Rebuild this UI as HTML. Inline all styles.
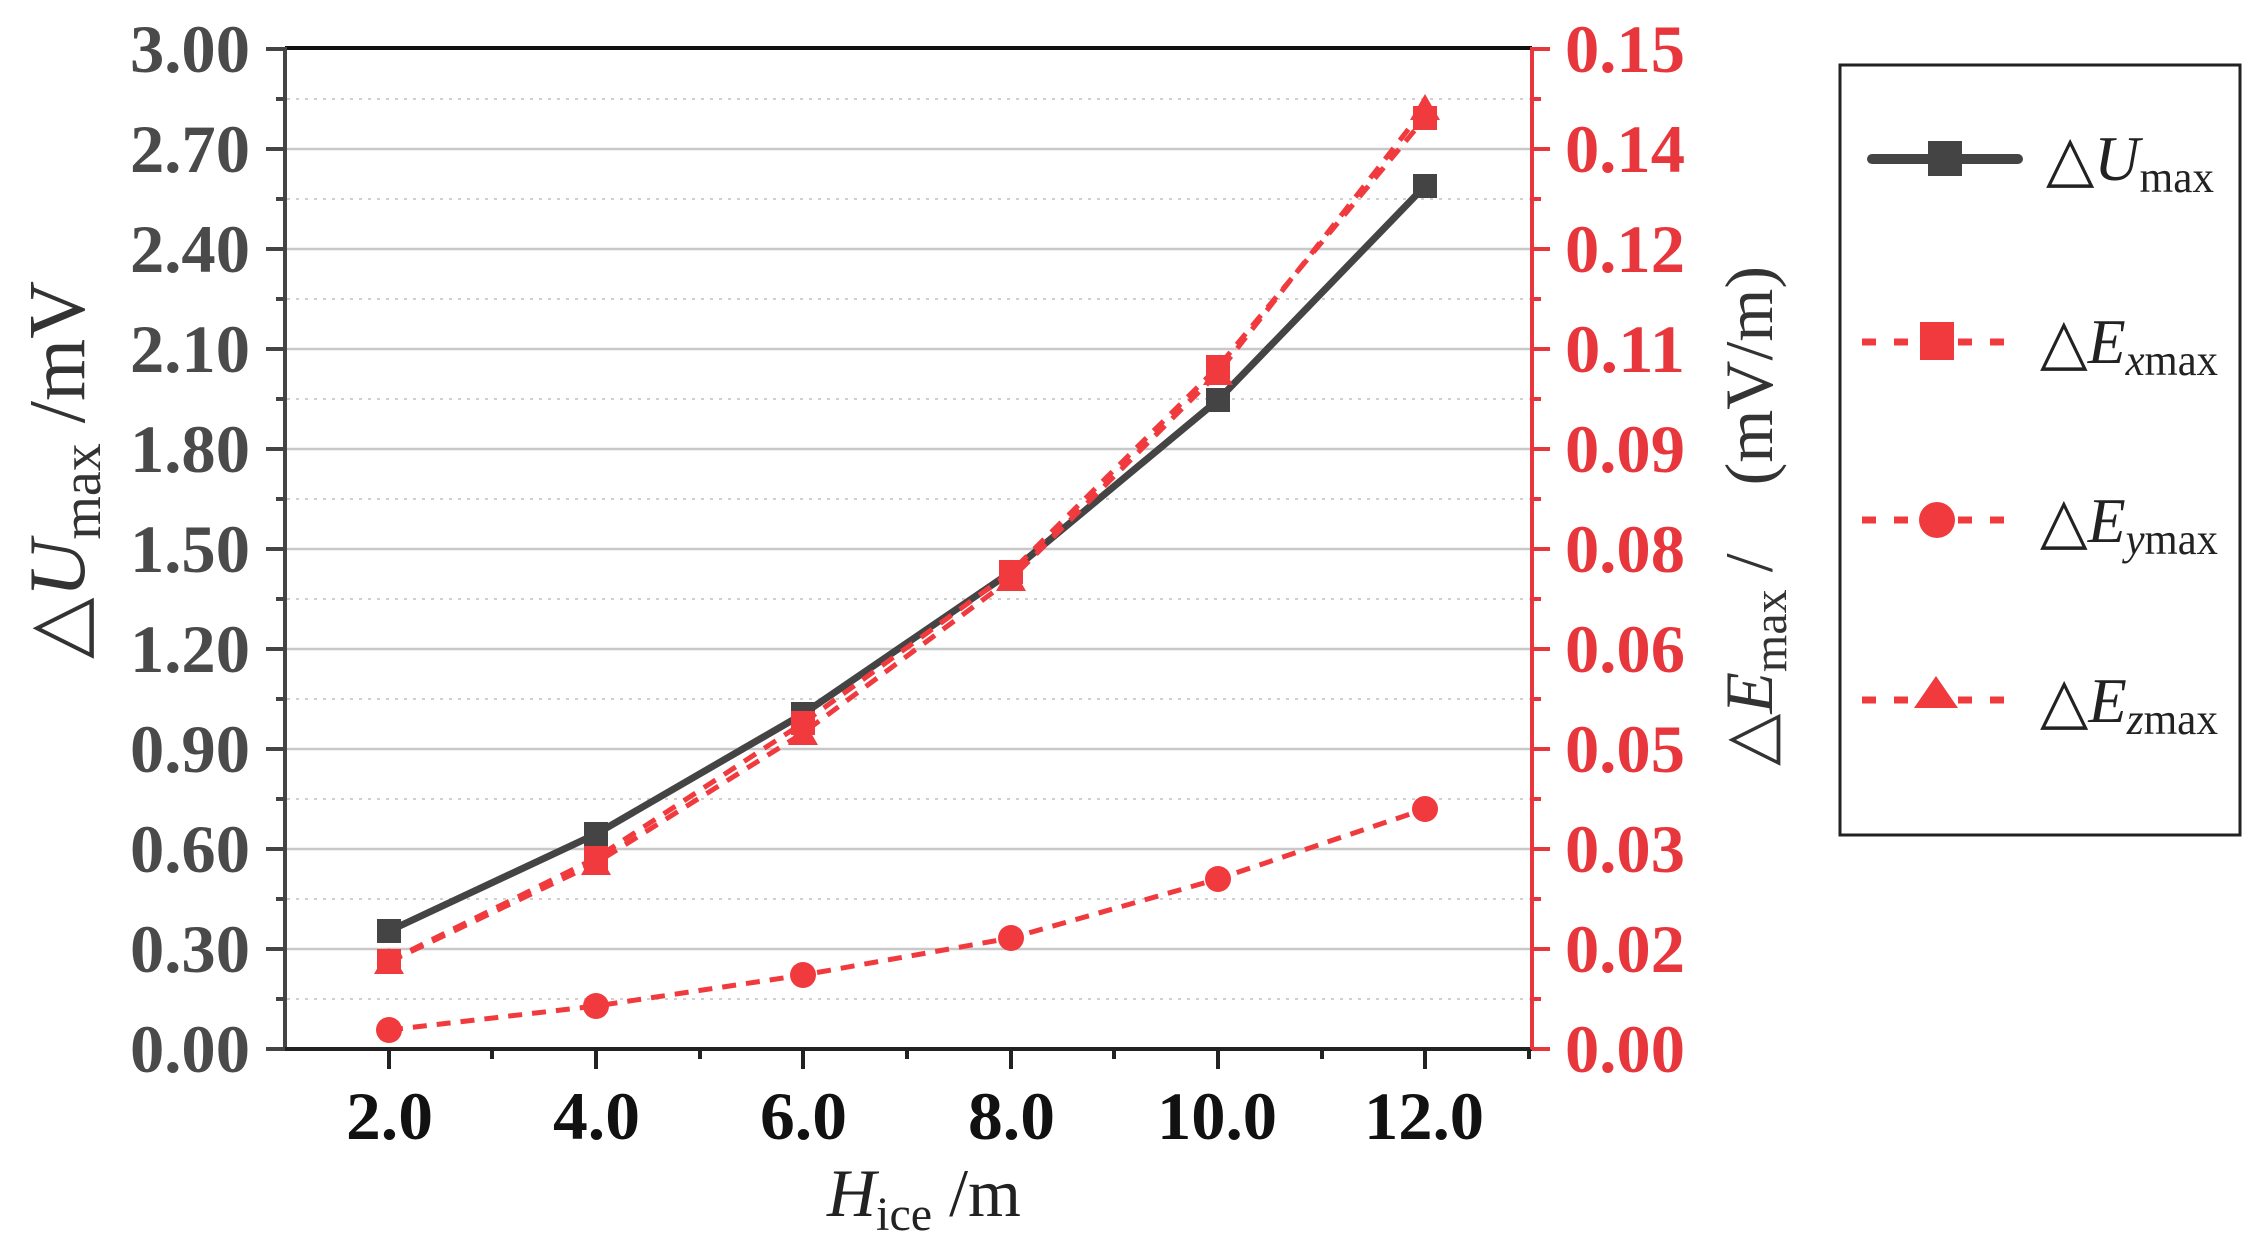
<!DOCTYPE html>
<html><head><meta charset="utf-8"><style>
html,body{margin:0;padding:0;background:#fff;}
svg{display:block;}
text{font-family:"Liberation Serif","Times New Roman",serif;}
</style></head><body>
<svg width="2266" height="1253" viewBox="0 0 2266 1253" xmlns="http://www.w3.org/2000/svg">
<g stroke="#d0d0d0" stroke-width="2" stroke-dasharray="3,6">
<line x1="287" x2="1531" y1="99" y2="99"/><line x1="287" x2="1531" y1="199" y2="199"/>
<line x1="287" x2="1531" y1="299" y2="299"/><line x1="287" x2="1531" y1="399" y2="399"/>
<line x1="287" x2="1531" y1="499" y2="499"/><line x1="287" x2="1531" y1="599" y2="599"/>
<line x1="287" x2="1531" y1="699" y2="699"/><line x1="287" x2="1531" y1="799" y2="799"/>
<line x1="287" x2="1531" y1="899" y2="899"/><line x1="287" x2="1531" y1="999" y2="999"/>
</g>
<g stroke="#c8c8c8" stroke-width="2.5">
<line x1="287" x2="1531" y1="149" y2="149"/><line x1="287" x2="1531" y1="249" y2="249"/>
<line x1="287" x2="1531" y1="349" y2="349"/><line x1="287" x2="1531" y1="449" y2="449"/>
<line x1="287" x2="1531" y1="549" y2="549"/><line x1="287" x2="1531" y1="649" y2="649"/>
<line x1="287" x2="1531" y1="749" y2="749"/><line x1="287" x2="1531" y1="849" y2="849"/>
<line x1="287" x2="1531" y1="949" y2="949"/>
</g>
<line x1="285" y1="48" x2="1532" y2="48" stroke="#111" stroke-width="4"/>
<line x1="285" y1="47" x2="285" y2="1050" stroke="#444" stroke-width="4"/>
<line x1="284" y1="1049" x2="1533" y2="1049" stroke="#222" stroke-width="4"/>
<line x1="1532" y1="47" x2="1532" y2="1050" stroke="#e8373c" stroke-width="4"/>
<g stroke="#444" stroke-width="4">
<line x1="266" x2="285" y1="49" y2="49"/><line x1="266" x2="285" y1="149" y2="149"/><line x1="266" x2="285" y1="249" y2="249"/><line x1="266" x2="285" y1="349" y2="349"/><line x1="266" x2="285" y1="449" y2="449"/><line x1="266" x2="285" y1="549" y2="549"/><line x1="266" x2="285" y1="649" y2="649"/><line x1="266" x2="285" y1="749" y2="749"/><line x1="266" x2="285" y1="849" y2="849"/><line x1="266" x2="285" y1="949" y2="949"/><line x1="266" x2="285" y1="1049" y2="1049"/>
<line x1="276" x2="285" y1="99" y2="99"/><line x1="276" x2="285" y1="199" y2="199"/><line x1="276" x2="285" y1="299" y2="299"/><line x1="276" x2="285" y1="399" y2="399"/><line x1="276" x2="285" y1="499" y2="499"/><line x1="276" x2="285" y1="599" y2="599"/><line x1="276" x2="285" y1="699" y2="699"/><line x1="276" x2="285" y1="799" y2="799"/><line x1="276" x2="285" y1="899" y2="899"/><line x1="276" x2="285" y1="999" y2="999"/>
</g>
<g stroke="#e8373c" stroke-width="4">
<line x1="1532" x2="1550" y1="49" y2="49"/><line x1="1532" x2="1550" y1="149" y2="149"/><line x1="1532" x2="1550" y1="249" y2="249"/><line x1="1532" x2="1550" y1="349" y2="349"/><line x1="1532" x2="1550" y1="449" y2="449"/><line x1="1532" x2="1550" y1="549" y2="549"/><line x1="1532" x2="1550" y1="649" y2="649"/><line x1="1532" x2="1550" y1="749" y2="749"/><line x1="1532" x2="1550" y1="849" y2="849"/><line x1="1532" x2="1550" y1="949" y2="949"/><line x1="1532" x2="1550" y1="1049" y2="1049"/>
<line x1="1532" x2="1541" y1="99" y2="99"/><line x1="1532" x2="1541" y1="199" y2="199"/><line x1="1532" x2="1541" y1="299" y2="299"/><line x1="1532" x2="1541" y1="399" y2="399"/><line x1="1532" x2="1541" y1="499" y2="499"/><line x1="1532" x2="1541" y1="599" y2="599"/><line x1="1532" x2="1541" y1="699" y2="699"/><line x1="1532" x2="1541" y1="799" y2="799"/><line x1="1532" x2="1541" y1="899" y2="899"/><line x1="1532" x2="1541" y1="999" y2="999"/>
</g>
<g stroke="#222" stroke-width="4">
<line x1="389" x2="389" y1="1049" y2="1069"/><line x1="596" x2="596" y1="1049" y2="1069"/><line x1="803" x2="803" y1="1049" y2="1069"/><line x1="1011" x2="1011" y1="1049" y2="1069"/><line x1="1218" x2="1218" y1="1049" y2="1069"/><line x1="1425" x2="1425" y1="1049" y2="1069"/>
<line x1="492" x2="492" y1="1049" y2="1059"/><line x1="700" x2="700" y1="1049" y2="1059"/><line x1="907" x2="907" y1="1049" y2="1059"/><line x1="1114" x2="1114" y1="1049" y2="1059"/><line x1="1322" x2="1322" y1="1049" y2="1059"/><line x1="1529" x2="1529" y1="1049" y2="1059"/>
</g>
<g font-size="68" font-weight="bold" fill="#4a4a4a">
<text x="130" y="72" textLength="120" lengthAdjust="spacingAndGlyphs">3.00</text><text x="130" y="172" textLength="120" lengthAdjust="spacingAndGlyphs">2.70</text><text x="130" y="272" textLength="120" lengthAdjust="spacingAndGlyphs">2.40</text><text x="130" y="372" textLength="120" lengthAdjust="spacingAndGlyphs">2.10</text><text x="130" y="472" textLength="120" lengthAdjust="spacingAndGlyphs">1.80</text><text x="130" y="572" textLength="120" lengthAdjust="spacingAndGlyphs">1.50</text><text x="130" y="672" textLength="120" lengthAdjust="spacingAndGlyphs">1.20</text><text x="130" y="772" textLength="120" lengthAdjust="spacingAndGlyphs">0.90</text><text x="130" y="872" textLength="120" lengthAdjust="spacingAndGlyphs">0.60</text><text x="130" y="972" textLength="120" lengthAdjust="spacingAndGlyphs">0.30</text><text x="130" y="1072" textLength="120" lengthAdjust="spacingAndGlyphs">0.00</text>
</g>
<g font-size="68" font-weight="bold" fill="#e8373c">
<text x="1565" y="72" textLength="120" lengthAdjust="spacingAndGlyphs">0.15</text><text x="1565" y="172" textLength="120" lengthAdjust="spacingAndGlyphs">0.14</text><text x="1565" y="272" textLength="120" lengthAdjust="spacingAndGlyphs">0.12</text><text x="1565" y="372" textLength="120" lengthAdjust="spacingAndGlyphs">0.11</text><text x="1565" y="472" textLength="120" lengthAdjust="spacingAndGlyphs">0.09</text><text x="1565" y="572" textLength="120" lengthAdjust="spacingAndGlyphs">0.08</text><text x="1565" y="672" textLength="120" lengthAdjust="spacingAndGlyphs">0.06</text><text x="1565" y="772" textLength="120" lengthAdjust="spacingAndGlyphs">0.05</text><text x="1565" y="872" textLength="120" lengthAdjust="spacingAndGlyphs">0.03</text><text x="1565" y="972" textLength="120" lengthAdjust="spacingAndGlyphs">0.02</text><text x="1565" y="1072" textLength="120" lengthAdjust="spacingAndGlyphs">0.00</text>
</g>
<g font-size="68" font-weight="bold" fill="#111">
<text x="346" y="1139" textLength="87" lengthAdjust="spacingAndGlyphs">2.0</text><text x="553" y="1139" textLength="87" lengthAdjust="spacingAndGlyphs">4.0</text><text x="760" y="1139" textLength="87" lengthAdjust="spacingAndGlyphs">6.0</text><text x="968" y="1139" textLength="87" lengthAdjust="spacingAndGlyphs">8.0</text><text x="1157" y="1139" textLength="120" lengthAdjust="spacingAndGlyphs">10.0</text><text x="1364" y="1139" textLength="120" lengthAdjust="spacingAndGlyphs">12.0</text>
</g>
<text x="827" y="1216" font-size="68" fill="#222"><tspan font-style="italic">H</tspan><tspan font-size="48" dy="14">ice</tspan><tspan dy="-14"> /m</tspan></text>
<text transform="translate(84,470) rotate(-90)" x="0" y="0" text-anchor="middle" font-size="80" fill="#333">△<tspan font-style="italic">U</tspan><tspan font-size="56" dy="16">max</tspan><tspan dy="-16"> /mV</tspan></text>
<text transform="translate(1772,766) rotate(-90)" x="0" y="0" font-size="68" fill="#333" textLength="500" lengthAdjust="spacingAndGlyphs">△<tspan font-style="italic">E</tspan><tspan font-size="48" dy="14">max</tspan><tspan dy="-14"> /　(mV/m)</tspan></text>
<polyline points="389,931 596,834 803,714 1011,572 1218,400 1425,186" fill="none" stroke="#444" stroke-width="7"/>
<polyline points="389,961 596,858 803,723 1011,572 1218,367 1425,118" fill="none" stroke="#f03a3e" stroke-width="5" stroke-dasharray="14,10"/>
<polyline points="389,962 596,863 803,733 1011,579 1218,373 1425,108" fill="none" stroke="#f03a3e" stroke-width="5" stroke-dasharray="14,10"/>
<polyline points="389,1030 596,1006 803,975 1011,938 1218,879 1425,809" fill="none" stroke="#f03a3e" stroke-width="5" stroke-dasharray="14,10"/>
<g fill="#444">
<rect x="377" y="919" width="24" height="24"/><rect x="584" y="822" width="24" height="24"/><rect x="791" y="702" width="24" height="24"/><rect x="999" y="560" width="24" height="24"/><rect x="1206" y="388" width="24" height="24"/><rect x="1413" y="174" width="24" height="24"/>
</g>
<g fill="#f03a3e">
<rect x="377" y="949" width="24" height="24"/><rect x="584" y="846" width="24" height="24"/><rect x="791" y="711" width="24" height="24"/><rect x="999" y="560" width="24" height="24"/><rect x="1206" y="355" width="24" height="24"/><rect x="1413" y="106" width="24" height="24"/>
<polygon points="389,948 404,974 374,974"/><polygon points="596,849 611,875 581,875"/><polygon points="803,719 818,745 788,745"/><polygon points="1011,565 1026,591 996,591"/><polygon points="1218,359 1233,385 1203,385"/><polygon points="1425,94 1440,120 1410,120"/>
<circle cx="389" cy="1030" r="13"/><circle cx="596" cy="1006" r="13"/><circle cx="803" cy="975" r="13"/><circle cx="1011" cy="938" r="13"/><circle cx="1218" cy="879" r="13"/><circle cx="1425" cy="809" r="13"/>
</g>
<rect x="1840" y="65" width="400" height="770" fill="none" stroke="#222" stroke-width="3"/>
<line x1="1872" y1="159" x2="2018" y2="159" stroke="#444" stroke-width="10" stroke-linecap="round"/>
<rect x="1928" y="141" width="34" height="35" fill="#444"/>
<line x1="1862" y1="342" x2="2010" y2="342" stroke="#f03a3e" stroke-width="7" stroke-dasharray="14,18"/>
<rect x="1920" y="322" width="34" height="38" fill="#f03a3e"/>
<line x1="1862" y1="520" x2="2010" y2="520" stroke="#f03a3e" stroke-width="7" stroke-dasharray="14,18"/>
<circle cx="1937" cy="520" r="18" fill="#f03a3e"/>
<line x1="1862" y1="700" x2="2010" y2="700" stroke="#f03a3e" stroke-width="7" stroke-dasharray="14,18"/>
<polygon points="1936,676 1958,708 1914,708" fill="#f03a3e"/>
<g font-size="64" fill="#222">
<text x="2046" y="180" textLength="168" lengthAdjust="spacingAndGlyphs">△<tspan font-style="italic">U</tspan><tspan font-size="44" dy="12">max</tspan></text>
<text x="2040" y="363" textLength="178" lengthAdjust="spacingAndGlyphs">△<tspan font-style="italic">E</tspan><tspan font-size="44" dy="12"><tspan font-style="italic">x</tspan>max</tspan></text>
<text x="2040" y="542" textLength="178" lengthAdjust="spacingAndGlyphs">△<tspan font-style="italic">E</tspan><tspan font-size="44" dy="12"><tspan font-style="italic">y</tspan>max</tspan></text>
<text x="2040" y="722" textLength="178" lengthAdjust="spacingAndGlyphs">△<tspan font-style="italic">E</tspan><tspan font-size="44" dy="12"><tspan font-style="italic">z</tspan>max</tspan></text>
</g>
</svg>
</body></html>
